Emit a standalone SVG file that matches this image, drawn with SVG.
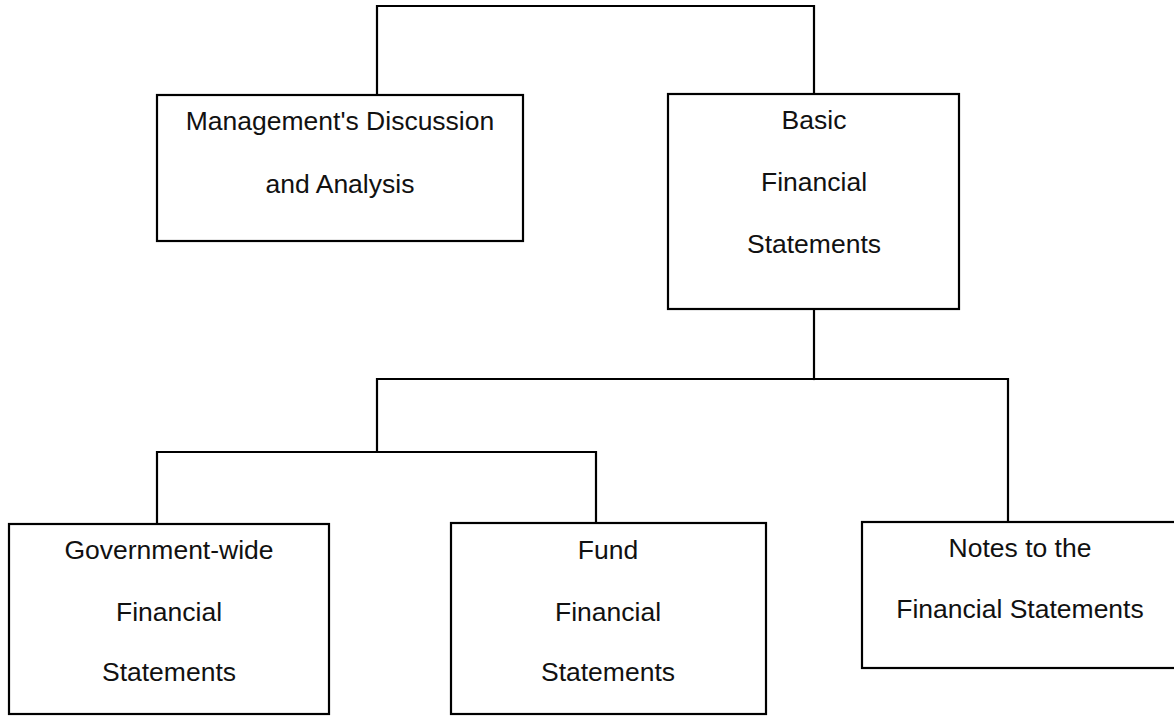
<svg xmlns="http://www.w3.org/2000/svg" width="1174" height="717" viewBox="0 0 1174 717">
  <style>
    .box { fill: #ffffff; stroke: #000000; stroke-width: 2.2; }
    .conn { fill: none; stroke: #000000; stroke-width: 2.2; stroke-linecap: square; }
    .lbl { font-family: "Liberation Sans", Arial, Helvetica, sans-serif; font-size: 26.5px; fill: #111111; text-anchor: middle; }
  </style>
  <rect width="1174" height="717" fill="#ffffff"/>
  <g id="connectors">
    <polyline class="conn" points="377,95 377,6 814,6 814,94"/>
    <line class="conn" x1="814" y1="309" x2="814" y2="379"/>
    <polyline class="conn" points="377,452 377,379 1008,379 1008,522"/>
    <polyline class="conn" points="157,524 157,452 596,452 596,523"/>
  </g>
  <g id="node-mda">
    <rect class="box" x="157" y="95" width="366" height="146"/>
    <text class="lbl" x="340" y="130">Management's Discussion</text>
    <text class="lbl" x="340" y="193">and Analysis</text>
  </g>
  <g id="node-basic">
    <rect class="box" x="668" y="94" width="291" height="215"/>
    <text class="lbl" x="814" y="129">Basic</text>
    <text class="lbl" x="814" y="191">Financial</text>
    <text class="lbl" x="814" y="253">Statements</text>
  </g>
  <g id="node-gov">
    <rect class="box" x="9" y="524" width="320" height="190"/>
    <text class="lbl" x="169" y="559">Government-wide</text>
    <text class="lbl" x="169" y="621">Financial</text>
    <text class="lbl" x="169" y="681">Statements</text>
  </g>
  <g id="node-fund">
    <rect class="box" x="451" y="523" width="315" height="191"/>
    <text class="lbl" x="608" y="559">Fund</text>
    <text class="lbl" x="608" y="621">Financial</text>
    <text class="lbl" x="608" y="681">Statements</text>
  </g>
  <g id="node-notes">
    <rect class="box" x="862" y="522" width="330" height="146"/>
    <text class="lbl" x="1020" y="557">Notes to the</text>
    <text class="lbl" x="1020" y="618">Financial Statements</text>
  </g>
</svg>
